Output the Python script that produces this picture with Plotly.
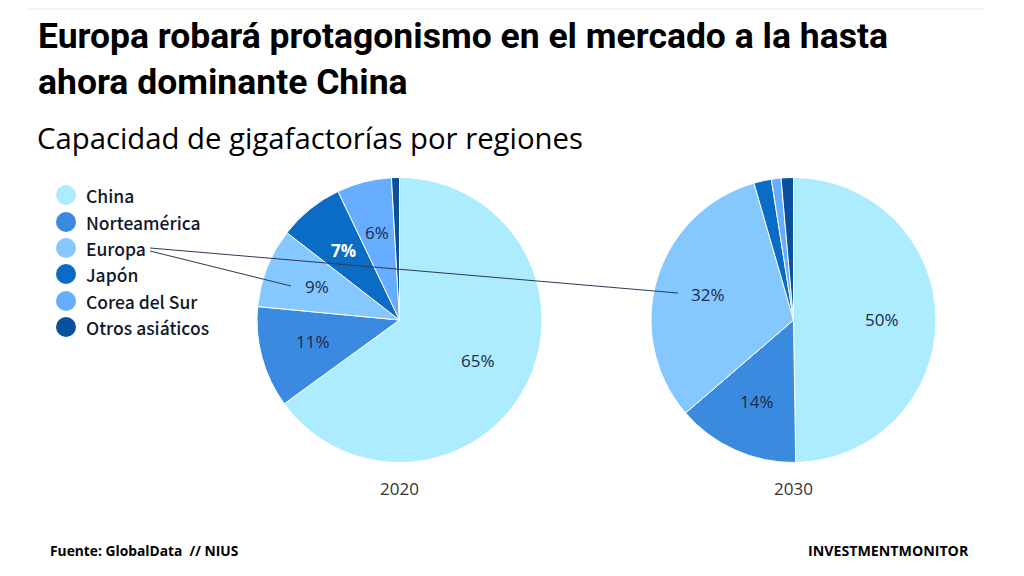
import plotly.graph_objects as go

regions = ['China', 'Norteamérica', 'Europa', 'Japón', 'Corea del Sur', 'Otros asiáticos']
values_2020 = [65, 11.5, 9, 7.4, 6.2, 0.9]
values_2030 = [50, 14, 32, 2, 1.1, 1.4]
labels_2020 = ['65%', '11%', '9%', '7%', '6%']
labels_2030 = ['50%', '14%', '32%']

colors = ['#ADEBFF', '#3A8BE0', '#85C7FF', '#0A6CC4', '#66ADFF', '#0A509E']

W, H = 1024, 576
R = 142.5


def px(x, y):
    # pixel position to paper coords
    return x / W, 1 - y / H


def pie_domain(cx, cy):
    return dict(x=[(cx - R) / W, (cx + R) / W], y=[1 - (cy + R) / H, 1 - (cy - R) / H])


fig = go.Figure()
for vals, cx, name in [(values_2020, 399.5, '2020'), (values_2030, 793.5, '2030')]:
    fig.add_trace(go.Pie(labels=regions, values=vals, name=name, sort=False, direction='clockwise',
                         rotation=0, textinfo='none', domain=pie_domain(cx, 320),
                         marker=dict(colors=colors, line=dict(color='white', width=1))))

annotations = []


def add_text(x, y, text, size, font='Open Sans', color='#000000', anchor='center', weight=400):
    ax, ay = px(x, y)
    annotations.append(dict(x=ax, y=ay, xref='paper', yref='paper', text=text,
                            showarrow=False, xanchor=anchor, yanchor='middle',
                            font=dict(family=font, size=size, color=color, weight=weight)))


# titles
add_text(36, 36, 'Europa robará protagonismo en el mercado a la hasta', 35.5, font='Roboto', anchor='left', weight=700)
add_text(36, 82, 'ahora dominante China', 35.5, font='Roboto', anchor='left', weight=700)
add_text(35, 138, 'Capacidad de gigafactorías por regiones', 29.3, anchor='left', weight=500)

# slice labels
label_pos_2020 = [(478, 360), (313, 341), (317, 286), (343, 251), (377, 233)]
for i, (t, (x, y)) in enumerate(zip(labels_2020, label_pos_2020)):
    if t == '7%':
        add_text(x, y, t, 17, color='white', weight=700)
    else:
        add_text(x, y, t, 17, color='#1a2a4a')
label_pos_2030 = [(882, 319), (757, 401), (708, 294)]
for t, (x, y) in zip(labels_2030, label_pos_2030):
    add_text(x, y, t, 17, color='#1a2a4a')

add_text(399, 488, '2020', 17, color='#333333')
add_text(793, 488, '2030', 17, color='#333333')

# legend
shapes = []
legend_y = [195, 222, 248, 274, 301, 327]
for name, col, y in zip(regions, colors, legend_y):
    x0, y0 = px(56, y - 10)
    x1, y1 = px(76, y + 10)
    shapes.append(dict(type='circle', xref='paper', yref='paper', x0=x0, y0=y0, x1=x1, y1=y1,
                       fillcolor=col, line=dict(width=0)))
    add_text(84, y, name, 17.5, font='Noto Sans CJK JP', color='#10182a', anchor='left', weight=500)

# leader lines from Europa and the rule on top
for (xa, ya, xb, yb, c) in [(150, 251, 291, 286, '#2b3a55'), (150, 248, 678, 293, '#2b3a55'),
                            (28, 9, 983, 9, '#e6e6e6')]:
    x0, y0 = px(xa, ya)
    x1, y1 = px(xb, yb)
    shapes.append(dict(type='line', xref='paper', yref='paper', x0=x0, y0=y0, x1=x1, y1=y1,
                       line=dict(color=c, width=1)))

# footer
add_text(48, 550, 'Fuente: GlobalData  // NIUS', 13.8, anchor='left', weight=700)
add_text(806, 550, 'INVESTMENTMONITOR', 14.2, anchor='left', weight=700)

fig.update_layout(width=W, height=H, margin=dict(l=0, r=0, t=0, b=0), showlegend=False,
                  paper_bgcolor='white', annotations=annotations, shapes=shapes)

# drop the page's default body margin so the figure sits at 0,0
fig.write_html("out.html", config={'displayModeBar': False},
               post_script="document.body.style.margin='0';")
